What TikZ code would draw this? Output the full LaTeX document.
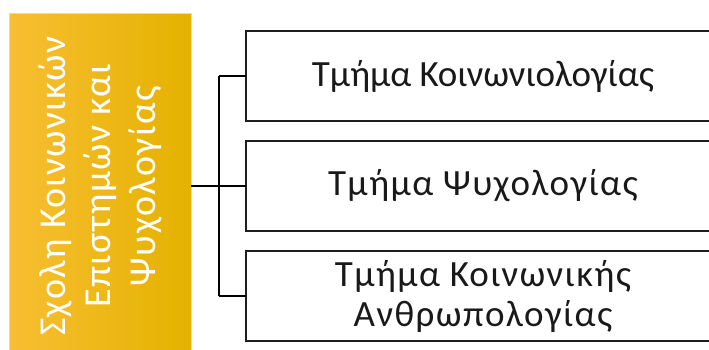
\documentclass[tikz,border=0pt]{standalone}
\usepackage{fontspec}
\setmainfont{Carlito}
\newfontfamily\spacedfont{Carlito}[LetterSpace=4]
\usepackage{tikz}
\usetikzlibrary{positioning}

\definecolor{schoolleft}{RGB}{248,190,50}
\definecolor{schoolmid}{RGB}{249,192,0}
\definecolor{schoolright}{RGB}{228,178,0}
\definecolor{deptline}{RGB}{30,30,30}

\begin{document}
\begin{tikzpicture}[
		node distance=20pt,
		every node/.style={inner sep=0pt, outer sep=0pt},
		schoolbox/.style={rectangle, draw=schoolleft!60!white, line width=0.6pt, left color=schoolleft, middle color=schoolmid, right color=schoolright, minimum width=182pt, minimum height=346pt},
		schooltext/.style={text=white, rotate=90, align=center, font=\spacedfont\fontsize{38}{45}\selectfont},
		deptbox/.style={rectangle, draw=deptline, line width=2pt, minimum width=474pt, minimum height=90pt, align=center, text=black!90, font=\fontsize{37}{40}\selectfont},
		link/.style={draw=black, line width=2.8pt}
	]
  \useasboundingbox (0pt, 0pt) rectangle (709pt, -349pt);
  \clip (0pt, 0pt) rectangle (709pt, -349pt);
  \fill[white] (0pt, 0pt) rectangle (709pt, -349pt);
  \node (school) [schoolbox] at (100pt, -186pt) {};
  \node (school_label) [schooltext] at (school.center) {Σχολη Κοινωνικών\\Επιστημών και\\Ψυχολογίας};
  \node (dept1) [deptbox] at (483pt, -76pt) {Τμήμα Κοινωνιολογίας};
  \node (dept2) [deptbox, below=of dept1] {\spacedfont Τμήμα Ψυχολογίας};
  \node (dept3) [deptbox, below=of dept2] {\spacedfont Τμήμα Κοινωνικής\\\spacedfont Ανθρωπολογίας};
  \coordinate (trunk) at (219pt, 0pt);
  \draw[link] (school.east) -- (school.east -| trunk);
  \draw[link] (dept1.west -| trunk) -- (dept3.west -| trunk);
  \foreach \dept in {dept1, dept2, dept3}
    \draw[link] (\dept.west -| trunk) -- (\dept.west);
\end{tikzpicture}
\end{document}
